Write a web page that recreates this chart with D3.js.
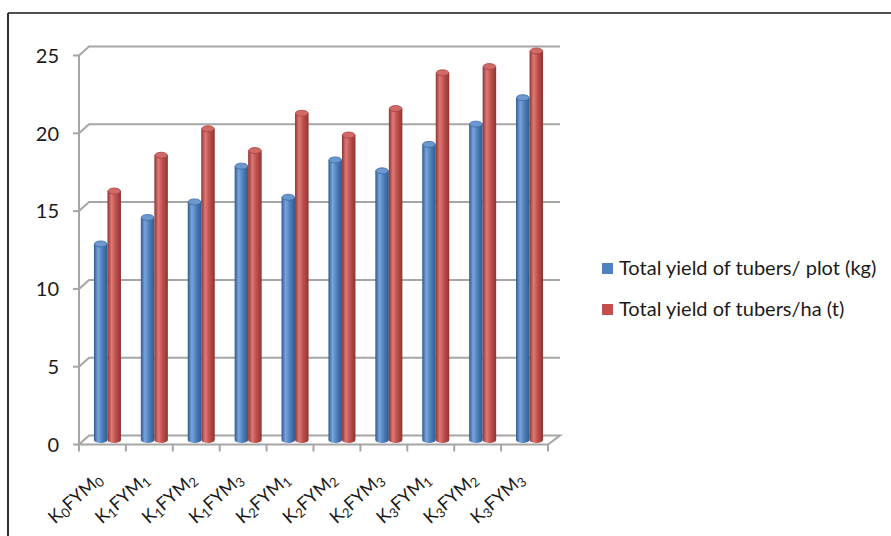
<!DOCTYPE html>
<html>
<head>
<meta charset="utf-8">
<script src="https://cdn.jsdelivr.net/npm/d3@7"></script>
<style>
  html, body { margin: 0; padding: 0; background: #fff; }
  svg { display: block; }
  text { font-family: Lato, "Open Sans", sans-serif; fill: #1a1a1a; }
</style>
</head>
<body>
<svg id="chart" width="891" height="536"></svg>
<script>
// ---- data ----
const catBase = ["K", "K", "K", "K", "K", "K", "K", "K", "K", "K"];
const catKSub = ["0", "1", "1", "1", "2", "2", "2", "3", "3", "3"];
const catFYMSub = ["0", "1", "2", "3", "1", "2", "3", "1", "2", "3"];
const categories = catKSub.map((k, i) => "K" + k + "FYM" + catFYMSub[i]);
const seriesNames = ["Total yield of tubers/ plot (kg)", "Total yield of tubers/ha (t)"];
const plotValues = [12.6, 14.3, 15.3, 17.6, 15.6, 18.0, 17.3, 19.0, 20.3, 22.0];
const haValues   = [16.0, 18.3, 20.0, 18.6, 21.0, 19.6, 21.3, 23.6, 24.0, 25.0];
const yTicks = [0, 5, 10, 15, 20, 25];

// ---- layout ----
const svg = d3.select("#chart");
const depthX = 10, depthY = -9;
const y = d3.scaleLinear().domain([0, 25]).range([444.5, 55.5]);
const x = d3.scaleBand().domain(categories).range([79, 548])
  .paddingInner(0.424).paddingOuter(0.212);
const x1 = d3.scaleBand().domain([0, 1]).range([0, x.bandwidth()]);
const colors = [
  { light: "#7aa5dc", base: "#4f81bd", dark: "#2e5a90", top: "#6d97cf", stroke: "#3a6aa5" },
  { light: "#dc7a77", base: "#c0504d", dark: "#8e3431", top: "#d06a67", stroke: "#a8403d" }
];

const defs = svg.append("defs");
colors.forEach((c, i) => {
  const g = defs.append("linearGradient").attr("id", "cyl" + i)
    .attr("x1", "0%").attr("x2", "100%").attr("y1", "0%").attr("y2", "0%");
  g.append("stop").attr("offset", "0%").attr("stop-color", c.dark);
  g.append("stop").attr("offset", "30%").attr("stop-color", c.light);
  g.append("stop").attr("offset", "60%").attr("stop-color", c.base);
  g.append("stop").attr("offset", "100%").attr("stop-color", c.dark);
});

// frame
svg.append("line").attr("x1", 8).attr("x2", 891).attr("y1", 13).attr("y2", 13)
  .attr("stroke", "#505050").attr("stroke-width", 2);
svg.append("line").attr("x1", 8).attr("x2", 8).attr("y1", 13).attr("y2", 536)
  .attr("stroke", "#303030").attr("stroke-width", 2);

const gridColor = "#a6a6a6";
const [x0, xEnd] = x.range();
// gridlines on side & back wall
yTicks.forEach(t => {
  if (t === 0) return;
  const yy = y(t);
  svg.append("path")
    .attr("d", `M${x0},${yy} L${x0 + depthX},${yy + depthY} L${xEnd + depthX + 2},${yy + depthY}`)
    .attr("fill", "none").attr("stroke", gridColor).attr("stroke-width", 2);
});
// floor
const y0 = y(0);
svg.append("path")
  .attr("d", `M${x0},${y0} L${x0 + depthX},${y0 + depthY} L${xEnd + depthX + 2},${y0 + depthY} L${xEnd},${y0} Z`)
  .attr("fill", "none").attr("stroke", gridColor).attr("stroke-width", 2);

// y axis line + ticks
svg.append("line").attr("x1", x0).attr("x2", x0).attr("y1", y(25)).attr("y2", y0)
  .attr("stroke", gridColor).attr("stroke-width", 2);
yTicks.forEach(t => {
  svg.append("line").attr("x1", x0 - 6).attr("x2", x0).attr("y1", y(t)).attr("y2", y(t))
    .attr("stroke", gridColor).attr("stroke-width", 2);
  svg.append("text").attr("x", 59).attr("y", y(t)).attr("dy", "0.36em")
    .attr("text-anchor", "end").attr("font-size", 20).text(t);
});
// category ticks
const step = x.step();
d3.range(categories.length + 1).forEach(i => {
  const xx = x0 + i * step;
  svg.append("line").attr("x1", xx).attr("x2", xx).attr("y1", y0).attr("y2", y0 + 7)
    .attr("stroke", gridColor).attr("stroke-width", 2);
});

// bars (cylinders)
const ry = 3;
const allValues = [plotValues, haValues];
categories.forEach((cat, i) => {
  [0, 1].forEach(s => {
    const v = allValues[s][i];
    const bx = x(cat) + x1(s) + depthX / 2;
    const bw = x1.bandwidth();
    const rx = bw / 2;
    const top = y(v) + depthY / 2;
    const bot = y(0) + depthY / 2;
    svg.append("path")
      .attr("d", `M${bx},${top} L${bx},${bot} A${rx},${ry} 0 0 0 ${bx + bw},${bot} L${bx + bw},${top} Z`)
      .attr("fill", `url(#cyl${s})`);
    svg.append("ellipse").attr("cx", bx + rx).attr("cy", top).attr("rx", rx - 0.5).attr("ry", ry)
      .attr("fill", colors[s].top).attr("stroke", colors[s].stroke).attr("stroke-width", 0.8);
  });
});

// category labels
categories.forEach((cat, i) => {
  const cx = x(cat) + x.bandwidth() / 2;
  const t = svg.append("text")
    .attr("transform", `translate(${cx + 1},${481}) rotate(-42)`)
    .attr("text-anchor", "end").attr("font-size", 18);
  t.append("tspan").text(catBase[i]);
  t.append("tspan").attr("font-size", 13).attr("dy", 3).text(catKSub[i]);
  t.append("tspan").attr("dy", -3).text("FYM");
  t.append("tspan").attr("font-size", 13).attr("dy", 3).text(catFYMSub[i]);
});

// legend
seriesNames.forEach((name, s) => {
  const ly = 263 + s * 41;
  svg.append("rect").attr("x", 602).attr("y", ly).attr("width", 11).attr("height", 11)
    .attr("fill", colors[s].base);
  svg.append("text").attr("x", 619).attr("y", ly + 12).attr("font-size", 20).text(name);
});
</script>
</body>
</html>
